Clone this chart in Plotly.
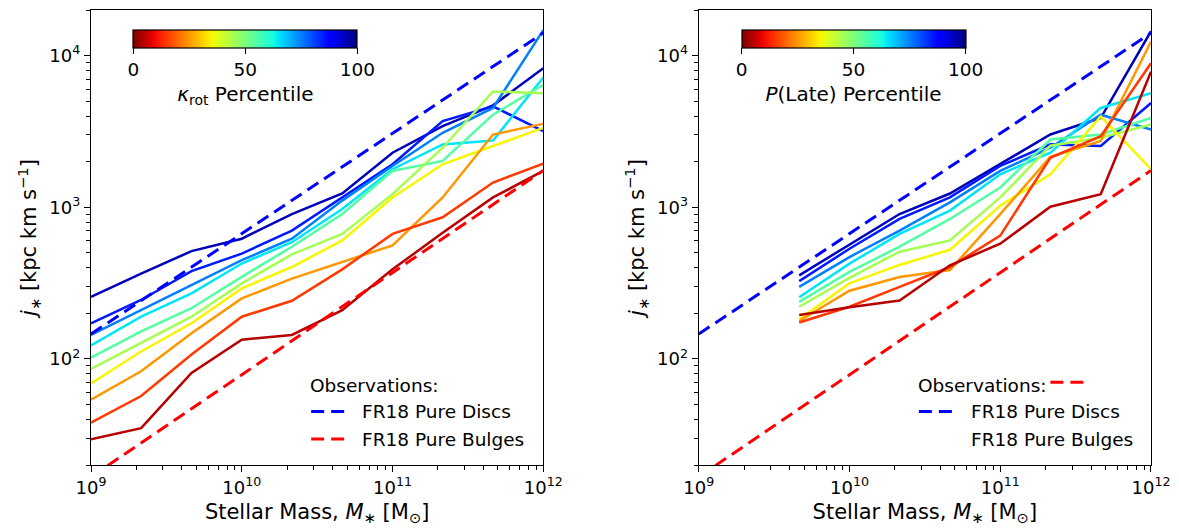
import plotly.graph_objects as go

# ---------------- data ----------------
mass = [1.0e9, 2.15e9, 4.64e9, 1.0e10, 2.15e10, 4.64e10, 1.0e11, 2.15e11, 4.64e11, 1.0e12]
percentiles = [95, 85, 75, 65, 55, 45, 35, 25, 15, 5]

# left panel: kappa_rot percentile bins (j_* in kpc km/s)
kappa_j = [
    [257, 366, 514, 621, 903, 1233, 2290, 3430, 4700, 8260],
    [172, 245, 380, 495, 703, 1162, 1923, 3700, 4630, 3176],
    [144, 210, 307, 448, 621, 1107, 1875, 3100, 4520, 14740],
    [123, 190, 271, 426, 589, 975, 1783, 2600, 2760, 7180],
    [102, 152, 216, 348, 550, 903, 1738, 2023, 4080, 6430],
    [86, 127, 190, 315, 490, 668, 1222, 2472, 5810, 5660],
    [69, 112, 172, 292, 404, 605, 1161, 1923, 2535, 3340],
    [54, 83, 148, 251, 339, 436, 561, 1162, 3020, 3550],
    [38, 57, 107, 190, 242, 390, 668, 860, 1456, 1941],
    [29.6, 35, 81, 134, 144, 210, 390, 680, 1162, 1738],
]

# right panel: P(Late) percentile bins, starting at the third mass bin
mass_late = mass[2:]
late_j = [
    [356, 569, 903, 1233, 1941, 3020, 3880, 14500],
    [326, 533, 838, 1162, 1875, 2600, 2535, 4870],
    [299, 470, 703, 1077, 1738, 2472, 4080, 3260],
    [255, 425, 668, 951, 1652, 2290, 4520, 5660],
    [238, 375, 550, 838, 1352, 2800, 3020, 3880],
    [221, 343, 510, 605, 1162, 2550, 2872, 3520],
    [183, 315, 417, 525, 1025, 1652, 3980, 1784],
    [178, 282, 347, 386, 903, 2150, 2735, 12350],
    [174, 221, 299, 404, 651, 2123, 2945, 8910],
    [195, 219, 243, 415, 575, 1009, 1222, 7850],
]

# FR18 observational relations
obs_mass = [1.0e9, 1.0e12]
disc_j = [146, 14100]
bulge_j = [16.7, 1750]

xtick_vals = [1e9, 1e10, 1e11, 1e12]
xtick_text = ["10<sup>9</sup>", "10<sup>10</sup>", "10<sup>11</sup>", "10<sup>12</sup>"]
ytick_vals = [1e2, 1e3, 1e4]
ytick_text = ["10<sup>2</sup>", "10<sup>3</sup>", "10<sup>4</sup>"]
cbar_ticks = [0, 50, 100]


# ---------------- styling helpers ----------------
def _interp(x, pts):
    for (x0, y0), (x1, y1) in zip(pts[:-1], pts[1:]):
        if x0 <= x <= x1:
            return y0 if x1 == x0 else y0 + (y1 - y0) * (x - x0) / (x1 - x0)
    return pts[-1][1]


def jet(t):
    r = _interp(t, [(0, 0), (0.35, 0), (0.66, 1), (0.89, 1), (1, 0.5)])
    g = _interp(t, [(0, 0), (0.125, 0), (0.375, 1), (0.64, 1), (0.91, 0), (1, 0)])
    b = _interp(t, [(0, 0.5), (0.11, 1), (0.34, 1), (0.65, 0), (1, 0)])
    return "rgb(%d,%d,%d)" % (round(r * 255), round(g * 255), round(b * 255))


def jet_r(t):
    return jet(1 - t)


colorscale = [[i / 40, jet_r(i / 40)] for i in range(41)]

FONT = "DejaVu Sans"
W, H = 1179, 532
L, T = 91, 9
R, B = W - 1155, H - 465
PW, PH = W - L - R, H - T - B


def px(x):
    return (x - L) / PW


def py(y):
    return 1 - (y - T) / PH


fig = go.Figure()

for p, js in zip(percentiles, kappa_j):
    fig.add_trace(go.Scatter(x=mass, y=js, mode="lines", line=dict(color=jet_r(p / 100), width=2.5),
                             showlegend=False, xaxis="x", yaxis="y", hoverinfo="skip"))
for p, js in zip(percentiles, late_j):
    fig.add_trace(go.Scatter(x=mass_late, y=js, mode="lines", line=dict(color=jet_r(p / 100), width=2.5),
                             showlegend=False, xaxis="x2", yaxis="y2", hoverinfo="skip"))

for xa, ya in (("x", "y"), ("x2", "y2")):
    fig.add_trace(go.Scatter(x=obs_mass, y=disc_j, mode="lines",
                             line=dict(color="rgb(0,0,255)", width=3, dash="13px,7px"),
                             showlegend=False, xaxis=xa, yaxis=ya, hoverinfo="skip"))
    fig.add_trace(go.Scatter(x=obs_mass, y=bulge_j, mode="lines",
                             line=dict(color="rgb(255,0,0)", width=3, dash="13px,7px"),
                             showlegend=False, xaxis=xa, yaxis=ya, hoverinfo="skip"))

# dummy traces carrying the colour bars
fig.add_trace(go.Scatter(x=[None], y=[None], mode="markers", xaxis="x", yaxis="y", showlegend=False,
                         marker=dict(color=[0], coloraxis="coloraxis")))
fig.add_trace(go.Scatter(x=[None], y=[None], mode="markers", xaxis="x2", yaxis="y2", showlegend=False,
                         marker=dict(color=[0], coloraxis="coloraxis2")))


def cbar(title, x_left):
    return dict(
        orientation="h", x=px(x_left), xanchor="left", y=py(29.5), yanchor="top",
        lenmode="pixels", len=224, thickness=18, thicknessmode="pixels",
        xpad=0, ypad=0, outlinecolor="black", outlinewidth=1.2,
        tickvals=cbar_ticks, ticks="outside", ticklen=6, tickcolor="black", tickwidth=1.2,
        tickfont=dict(family=FONT, size=18.5, color="black"),
        title=dict(text=title, side="bottom", font=dict(family=FONT, size=20, color="black")),
    )


xax = dict(type="log", range=[9, 12], tickvals=xtick_vals, ticktext=xtick_text,
           ticks="outside", ticklen=6, tickwidth=1.2, tickcolor="black",
           showline=True, linecolor="black", linewidth=1.3, mirror=True, showgrid=False, zeroline=False,
           tickfont=dict(family=FONT, size=18, color="black"),
           minor=dict(ticks="outside", ticklen=3.5, tickwidth=1, tickcolor="black",
                      tickvals=[m * 10 ** e for e in (9, 10, 11) for m in range(2, 10)]),
           title=dict(text="Stellar Mass, <i>M</i><sub>∗</sub> [M<sub>⊙</sub>]",
                      font=dict(family=FONT, size=21, color="black"), standoff=7))
yax = dict(type="log", range=[1.301, 4.301], tickvals=ytick_vals, ticktext=ytick_text,
           ticks="outside", ticklen=6, tickwidth=1.2, tickcolor="black",
           showline=True, linecolor="black", linewidth=1.3, mirror=True, showgrid=False, zeroline=False,
           tickfont=dict(family=FONT, size=18, color="black"),
           minor=dict(ticks="outside", ticklen=3.5, tickwidth=1, tickcolor="black",
                      tickvals=[m * 10 ** e for e in (1, 2, 3, 4) for m in range(2, 10)]),
           title=dict(text="<i>j</i><sub>∗</sub> [kpc km s<sup>−1</sup>]",
                      font=dict(family=FONT, size=21, color="black"), standoff=6))

fig.update_layout(
    width=W, height=H, autosize=False, margin=dict(l=L, r=R, t=T, b=B),
    paper_bgcolor="white", plot_bgcolor="white",
    font=dict(family=FONT, color="black"),
    xaxis=dict(xax, domain=[0, px(545)], anchor="y"),
    yaxis=dict(yax, domain=[0, 1], anchor="x"),
    xaxis2=dict(xax, domain=[px(701), 1], anchor="y2"),
    yaxis2=dict(yax, domain=[0, 1], anchor="x2"),
    coloraxis=dict(colorscale=colorscale, cmin=0, cmax=100,
                   colorbar=cbar("<i>κ</i><sub>rot</sub> Percentile", 133.5)),
    coloraxis2=dict(colorscale=colorscale, cmin=0, cmax=100,
                    colorbar=cbar("<i>P</i>(Late) Percentile", 744)),
    showlegend=False,
)

# hand-made legends (as in the reference)
ann_font = dict(family=FONT, size=18.5, color="black")


def add_text(x, y, text):
    fig.add_annotation(x=px(x), y=py(y), xref="paper", yref="paper", text=text, showarrow=False,
                       xanchor="left", yanchor="middle", font=ann_font)


def add_dash(x0, x1, y, color):
    fig.add_shape(type="line", xref="paper", yref="paper", x0=px(x0), x1=px(x1), y0=py(y), y1=py(y),
                  line=dict(color=color, width=3, dash="13px,7px"))


add_text(309, 385, "Observations:")
add_dash(312, 346, 411.5, "rgb(0,0,255)")
add_dash(312, 346, 439, "rgb(255,0,0)")
add_text(361, 411.5, "FR18 Pure Discs")
add_text(361, 439, "FR18 Pure Bulges")

add_text(919, 385, "Observations:")
add_dash(1054, 1088, 382, "rgb(255,0,0)")
add_dash(922, 957, 411.5, "rgb(0,0,255)")
add_text(972, 411.5, "FR18 Pure Discs")
add_text(972, 439, "FR18 Pure Bulges")

fig.write_html("out.html",
               config={"displayModeBar": False, "responsive": False},
               post_script="document.body.style.margin='0px';document.body.style.overflow='hidden';")
